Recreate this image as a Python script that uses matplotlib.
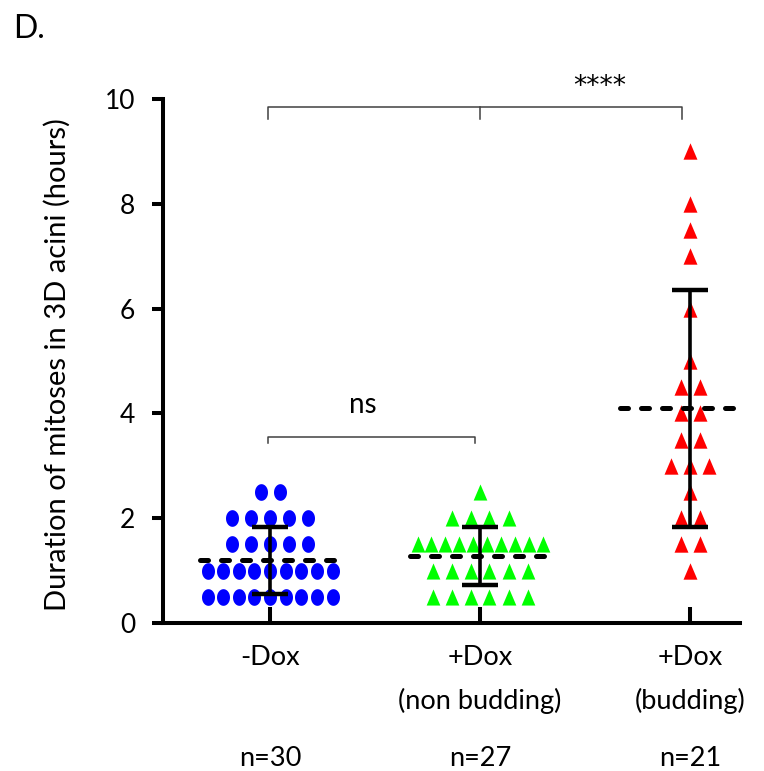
import matplotlib.pyplot as plt
import numpy as np
from matplotlib.path import Path
from matplotlib.transforms import blended_transform_factory

plt.rcParams['font.family'] = ['Lato', 'DejaVu Sans']

# -----------------------------------------------------------------------------
# Data: mitosis duration (hours) per acinus
# -----------------------------------------------------------------------------
group_names = ["-Dox", "+Dox", "+Dox"]
group_subtitles = ["", "(non budding)", "(budding)"]
n_labels = ["n=30", "n=27", "n=21"]

minus_dox = [2.5, 2.5,
             2.0, 2.0, 2.0, 2.0, 2.0,
             1.5, 1.5, 1.5, 1.5, 1.5,
             1.0, 1.0, 1.0, 1.0, 1.0, 1.0, 1.0, 1.0, 1.0,
             0.5, 0.5, 0.5, 0.5, 0.5, 0.5, 0.5, 0.5, 0.5]
dox_non_budding = [2.5,
                   2.0, 2.0, 2.0, 2.0,
                   1.5, 1.5, 1.5, 1.5, 1.5, 1.5, 1.5, 1.5, 1.5, 1.5,
                   1.0, 1.0, 1.0, 1.0, 1.0, 1.0,
                   0.5, 0.5, 0.5, 0.5, 0.5, 0.5]
dox_budding = [9.0, 8.0, 7.5, 7.0, 6.0, 5.0,
               4.5, 4.5, 4.0, 4.0, 3.5, 3.5,
               3.0, 3.0, 3.0, 2.5, 2.0, 2.0, 1.5, 1.5, 1.0]

groups = [minus_dox, dox_non_budding, dox_budding]
colors = ["#0000ff", "#00ff00", "#ff0000"]

# -----------------------------------------------------------------------------
# Marker shapes (slightly tall ellipse / triangle, like the Prism original)
# -----------------------------------------------------------------------------
t = np.linspace(0, 2 * np.pi, 60)
ellipse = Path(np.column_stack([0.78 * np.cos(t), np.sin(t)]))
triangle = Path([[0, 1], [-0.85, -1], [0.85, -1], [0, 1]], closed=True)
markers = [(ellipse, 12.0), (triangle, 11.6), (triangle, 11.8)]

PX_PER_UNIT = 210.0  # horizontal pixels per category unit


def row_offsets(k):
    """Spread k equal values side by side, narrower spacing for wide rows."""
    spacing = min(19.0, 125.0 / max(k - 1, 1)) / PX_PER_UNIT
    return (np.arange(k) - (k - 1) / 2) * spacing


fig = plt.figure(figsize=(7.64, 7.71), dpi=100)
ax = fig.add_axes([163 / 764, 148 / 771, 577 / 764, 524 / 771])

for i, (vals, col, (mk, ms)) in enumerate(zip(groups, colors, markers)):
    pos = i + 1
    vals = np.array(vals)
    xs, ys = [], []
    for v in np.unique(vals):
        k = np.sum(vals == v)
        xs.extend(pos + row_offsets(k))
        ys.extend([v] * k)
    ax.plot(xs, ys, ls="none", marker=mk, ms=ms, color=col, mec="none", zorder=2)

    # mean (dashed) and SD bar
    m = vals.mean()
    sd = vals.std(ddof=1)
    ax.errorbar(pos, m, yerr=sd, fmt="none", ecolor="black", elinewidth=2.6,
                capsize=13, capthick=3.2, zorder=4)
    ax.plot([pos - 0.333, pos + 0.333], [m, m], color="black", lw=3.6,
            ls=(0, (1.6, 2.6)), dash_capstyle="round", zorder=5)

# axes styling
ax.set_xlim(1 - 107 / PX_PER_UNIT, 3 + 50 / PX_PER_UNIT)
ax.set_ylim(0, 10)
for side in ["top", "right"]:
    ax.spines[side].set_visible(False)
for side in ["left", "bottom"]:
    ax.spines[side].set_linewidth(2.9)
ax.set_yticks(range(0, 11, 2))
ax.tick_params(axis="y", direction="out", length=7.9, width=2.9, pad=12,
               labelsize=19)
ax.set_xticks([1, 2, 3])
ax.set_xticklabels([])
ax.tick_params(axis="x", direction="in", length=11.5, width=2.9)

# significance brackets
br = dict(color="#404040", lw=1.1, clip_on=False)
ax.plot([0.99, 0.99, 2.96, 2.96], [9.62, 9.85, 9.85, 9.62], **br)
ax.plot([2.0, 2.0], [9.85, 9.62], **br)
ax.text(2.571, 10.22, "****", ha="center", va="center", fontsize=19,
        family="DejaVu Sans")
ax.plot([0.99, 0.99, 1.976, 1.976], [3.44, 3.55, 3.55, 3.44], **br)
ax.text(1.443, 4.16, "ns", ha="center", va="center", fontsize=20)

# category labels under the axis
trans = blended_transform_factory(ax.transData, fig.transFigure)
for i in range(3):
    ax.text(i + 1, 1 - 665 / 771, group_names[i], transform=trans,
            ha="center", va="baseline", fontsize=19.5)
    ax.text(i + 1, 1 - 709 / 771, group_subtitles[i], transform=trans,
            ha="center", va="baseline", fontsize=19.5)
    ax.text(i + 1, 1 - 766 / 771, n_labels[i], transform=trans,
            ha="center", va="baseline", fontsize=19.5)

fig.text(57 / 764, 1 - 365 / 771, "Duration of mitoses in 3D acini (hours)",
         rotation=90, ha="center", va="center", fontsize=21)
fig.text(13 / 764, 1 - 38 / 771, "D.", ha="left", va="baseline", fontsize=23)

fig.savefig("out.png", dpi=100)
